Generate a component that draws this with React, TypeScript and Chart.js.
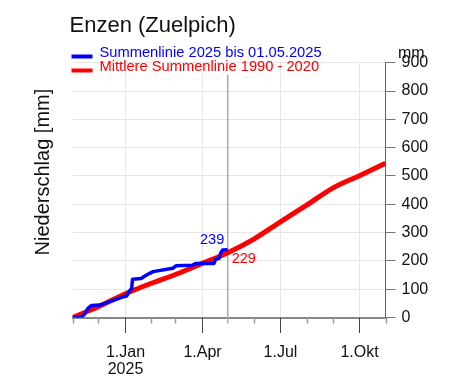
import React, { useEffect, useRef } from "react";
import { Chart, registerables } from "chart.js";

Chart.register(...registerables);

// ---- data ----
const titleText = "Enzen (Zuelpich)";
const yAxisTitle = "Niederschlag [mm]";
const unitLabel = "mm";
const seriesLabels = ["Summenlinie 2025 bis 01.05.2025", "Mittlere Summenlinie 1990 - 2020"];

const startDate = "2024-11-01";
const endDate = "2025-11-01";
const cutoffDate = "2025-05-01";

const blueDates = [
  "2024-11-01", "2024-11-11", "2024-11-15", "2024-11-19", "2024-11-23", "2024-12-03",
  "2024-12-14", "2024-12-22", "2024-12-28", "2025-01-03", "2025-01-06", "2025-01-09",
  "2025-01-10", "2025-01-20", "2025-01-24", "2025-01-30", "2025-02-03", "2025-02-26",
  "2025-03-02", "2025-03-21", "2025-03-25", "2025-04-15", "2025-04-17", "2025-04-21",
  "2025-04-23", "2025-04-25", "2025-05-01",
];
const blueValues = [
  0, 1, 12, 32, 42, 44,
  56, 64, 71, 76, 91, 103,
  135, 138, 146, 156, 162, 174,
  183, 185, 191, 191, 206, 209,
  229, 238, 239,
];

const redDates = [
  "2024-11-01", "2024-12-01", "2025-01-01", "2025-02-01", "2025-03-01", "2025-04-01",
  "2025-05-01", "2025-06-01", "2025-07-01", "2025-08-01", "2025-09-01", "2025-10-01",
  "2025-11-01",
];
const redValues = [0, 38, 83, 121, 152, 191, 229, 278, 337, 397, 458, 500, 545];

const monthTickDates = [
  "2024-11-01", "2024-12-01", "2025-01-01", "2025-02-01", "2025-03-01", "2025-04-01",
  "2025-05-01", "2025-06-01", "2025-07-01", "2025-08-01", "2025-09-01", "2025-10-01",
  "2025-11-01",
];
const quarterTickDates = ["2025-01-01", "2025-04-01", "2025-07-01", "2025-10-01"];
const quarterTickLabels = [["1.Jan", "2025"], ["1.Apr"], ["1.Jul"], ["1.Okt"]];

const yMin = 0;
const yMax = 900;
const yStep = 100;

// ---- helpers ----
const START_MS = Date.parse(startDate);
const dayOf = (s: string) => (Date.parse(s) - START_MS) / 86400000;

const FONT = "'Liberation Sans', Arial, Helvetica, sans-serif";
const BLUE = "#0000ff";
const RED = "#ff0000";

const decorPlugin = {
  id: "decor",
  beforeDatasetsDraw(chart: any) {
    const { ctx, chartArea, scales } = chart;
    const x = scales.x;
    const { top, bottom } = chartArea;
    ctx.save();
    ctx.strokeStyle = "#e6e6e6";
    ctx.lineWidth = 1;
    quarterTickDates.forEach((d) => {
      const px = Math.round(x.getPixelForValue(dayOf(d))) + 0.5;
      ctx.beginPath();
      ctx.moveTo(px, top);
      ctx.lineTo(px, bottom);
      ctx.stroke();
    });
    // cutoff line
    const cx = x.getPixelForValue(dayOf(cutoffDate));
    ctx.strokeStyle = "#aaaaaa";
    ctx.lineWidth = 1.5;
    ctx.beginPath();
    ctx.moveTo(cx, top + 12);
    ctx.lineTo(cx, bottom + 6);
    ctx.stroke();
    ctx.restore();
  },
  afterDraw(chart: any) {
    const { ctx, chartArea, scales } = chart;
    const x = scales.x;
    const y = scales.y;
    const { top, bottom, left, right } = chartArea;
    ctx.save();

    // month ticks
    monthTickDates.forEach((d) => {
      if (quarterTickDates.includes(d) || d === cutoffDate) return;
      const px = Math.round(x.getPixelForValue(dayOf(d))) + 0.5;
      ctx.strokeStyle = "#999999";
      ctx.lineWidth = 1.5;
      ctx.beginPath();
      ctx.moveTo(px, bottom);
      ctx.lineTo(px, bottom + 6);
      ctx.stroke();
    });
    quarterTickDates.forEach((d, i) => {
      const px = Math.round(x.getPixelForValue(dayOf(d))) + 0.5;
      ctx.strokeStyle = "#444444";
      ctx.lineWidth = 1;
      ctx.beginPath();
      ctx.moveTo(px, bottom);
      ctx.lineTo(px, bottom + 15.5);
      ctx.stroke();
      ctx.fillStyle = "#111111";
      ctx.font = `16px ${FONT}`;
      ctx.textAlign = "center";
      ctx.textBaseline = "alphabetic";
      quarterTickLabels[i].forEach((t, j) => {
        ctx.fillText(t, px, bottom + 39 + j * 17.5);
      });
    });

    // title
    ctx.fillStyle = "#111111";
    ctx.textAlign = "left";
    ctx.textBaseline = "alphabetic";
    ctx.font = `22px ${FONT}`;
    ctx.fillText(titleText, left - 3, 31.5);

    // legend
    const legendColors = [BLUE, RED];
    const legendY = [56.5, 70.5];
    ctx.font = `14.7px ${FONT}`;
    seriesLabels.forEach((lab, i) => {
      ctx.strokeStyle = legendColors[i];
      ctx.lineWidth = 4;
      ctx.beginPath();
      ctx.moveTo(left - 1, legendY[i]);
      ctx.lineTo(left + 20, legendY[i]);
      ctx.stroke();
      ctx.fillStyle = legendColors[i];
      ctx.fillText(lab, left + 27, legendY[i] + 0.8);
    });

    // unit label
    ctx.fillStyle = "#111111";
    ctx.font = `16px ${FONT}`;
    ctx.fillText(unitLabel, right + 12.5, 58);

    // y axis title
    ctx.save();
    ctx.translate(49, (top + bottom) / 2 - 18);
    ctx.rotate(-Math.PI / 2);
    ctx.font = `20px ${FONT}`;
    ctx.textAlign = "center";
    ctx.fillStyle = "#111111";
    ctx.fillText(yAxisTitle, 0, 0);
    ctx.restore();

    // value labels at cutoff
    const cx = x.getPixelForValue(dayOf(cutoffDate));
    const bVal = blueValues[blueValues.length - 1];
    const rVal = redValues[redDates.indexOf(cutoffDate)];
    ctx.font = `14.5px ${FONT}`;
    ctx.fillStyle = BLUE;
    ctx.textAlign = "right";
    ctx.fillText(String(bVal), cx - 3.5, y.getPixelForValue(bVal) - 6);
    ctx.fillStyle = RED;
    ctx.textAlign = "left";
    ctx.fillText(String(rVal), cx + 4, y.getPixelForValue(rVal) + 10.5);

    ctx.restore();
  },
};

export default function App() {
  const ref = useRef<HTMLCanvasElement | null>(null);

  useEffect(() => {
    if (!ref.current) return;
    const chart = new Chart(ref.current, {
      type: "line",
      data: {
        datasets: [
          {
            label: seriesLabels[0],
            data: blueDates.map((d, i) => ({ x: dayOf(d), y: blueValues[i] })),
            borderColor: BLUE,
            borderWidth: 3.5,
            pointRadius: 0,
            tension: 0,
            borderJoinStyle: "round",
          },
          {
            label: seriesLabels[1],
            data: redDates.map((d, i) => ({ x: dayOf(d), y: redValues[i] })),
            borderColor: RED,
            borderWidth: 5,
            pointRadius: 0,
            cubicInterpolationMode: "monotone",
            borderJoinStyle: "round",
          },
        ],
      },
      options: {
        animation: false,
        responsive: false,
        devicePixelRatio: 1,
        layout: { padding: { left: 72.5, top: 62.7, right: 0, bottom: 0 } },
        plugins: { legend: { display: false }, tooltip: { enabled: false }, title: { display: false } },
        scales: {
          x: {
            type: "linear",
            min: 0,
            max: dayOf(endDate),
            grid: { display: false, drawTicks: false },
            border: { display: true, color: "#888888", width: 2 },
            ticks: { display: false },
            afterFit: (s: any) => {
              s.height = 68.5;
            },
          },
          y: {
            type: "linear",
            position: "right",
            min: yMin,
            max: yMax,
            ticks: {
              stepSize: yStep,
              color: "#111111",
              font: { family: FONT, size: 16 },
              padding: 6,
            },
            grid: {
              color: "#e6e6e6",
              lineWidth: 1,
              drawTicks: true,
              tickLength: 10,
              tickColor: "#777777",
              tickWidth: 1,
            },
            border: { display: true, color: "#666666", width: 1 },
            afterFit: (s: any) => {
              s.width = 64.5;
            },
          },
        },
      },
      plugins: [decorPlugin],
    });
    return () => chart.destroy();
  }, []);

  return (
    <div style={{ position: "fixed", left: 0, top: 0, width: 450, height: 386, background: "#fff" }}>
      <canvas ref={ref} width={450} height={386} style={{ width: 450, height: 386 }} />
    </div>
  );
}
